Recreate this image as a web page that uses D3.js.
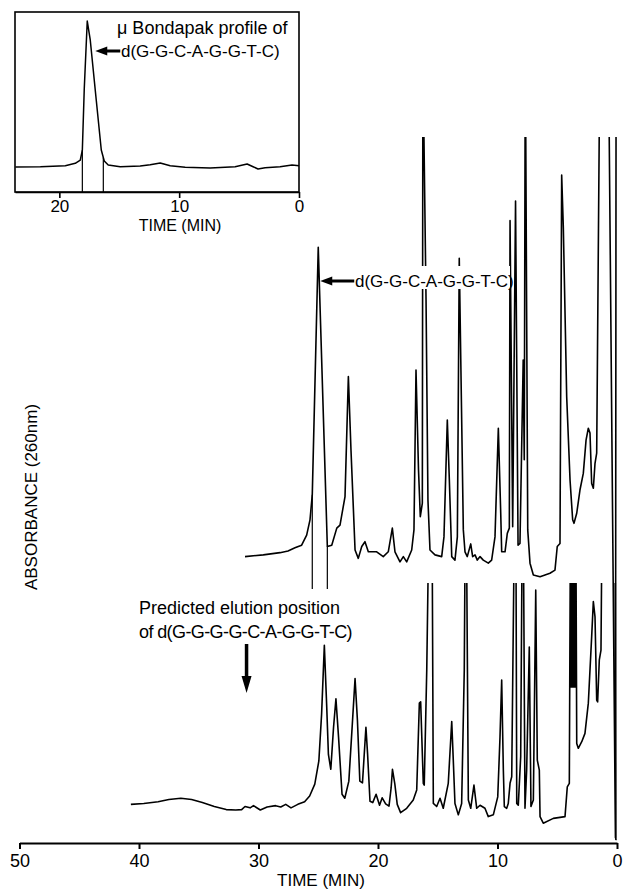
<!DOCTYPE html>
<html>
<head>
<meta charset="utf-8">
<script src="https://cdn.jsdelivr.net/npm/d3@7"></script>
<style>
  body { margin: 0; background: #fff; }
  svg { display: block; font-family: "Liberation Sans", Arial, Helvetica, sans-serif; }
</style>
</head>
<body>
<svg id="chart" width="626" height="889"></svg>
<script>
// retention times (min) and absorbance (arbitrary units, 0-100 = full pen range)
var upperTime = [31.13, 29.60, 28.20, 27.53, 26.95, 26.39, 25.97, 25.69, 25.50, 25.00, 24.24, 23.87, 23.45, 23.18, 22.76, 22.48, 22.26, 21.92, 21.65, 21.36, 21.09, 20.81, 20.11, 19.56, 19.14, 18.80, 18.58, 18.16, 17.88, 17.60, 17.18, 16.99, 16.82, 16.61, 16.46, 16.29, 16.25, 16.17, 15.98, 15.82, 15.65, 15.23, 14.67, 14.48, 14.20, 14.03, 13.83, 13.56, 13.36, 13.20, 12.86, 12.72, 12.53, 12.24, 12.08, 11.88, 11.69, 11.46, 11.19, 10.77, 10.49, 10.21, 9.93, 9.73, 9.65, 9.37, 9.18, 9.01, 8.95, 8.73, 8.49, 8.28, 8.12, 7.85, 7.76, 7.69, 7.64, 7.47, 7.28, 7.00, 6.44, 5.61, 5.19, 5.00, 4.77, 4.63, 4.49, 4.21, 3.93, 3.71, 3.60, 3.37, 3.10, 2.82, 2.59, 2.40, 2.26, 2.12, 1.98, 1.84, 1.70, 1.48, 0.66, 0.13, 0.08];
var upperAbs = [4.2, 4.6, 5.1, 5.5, 6.2, 6.8, 9.1, 12.6, 18.3, 74.8, 6.5, 6.8, 10.7, 11.4, 17.9, 45.3, 28.5, 5.7, 3.8, 6.5, 7.6, 5.3, 5.3, 4.2, 5.3, 10.7, 5.3, 3.0, 4.2, 3.0, 5.7, 10.3, 46.8, 24.0, 13.3, 16.4, 103, 103, 62.8, 17.1, 5.7, 4.6, 4.2, 8.7, 35.4, 21.7, 4.2, 3.4, 8.7, 72.3, 10.3, 5.3, 4.2, 7.1, 4.2, 4.6, 3.4, 4.2, 3.4, 2.7, 3.4, 8.7, 33.5, 14.1, 5.3, 5.3, 9.5, 10.7, 80.9, 11.0, 85.4, 6.8, 7.2, 49.1, 26.3, 103, 103, 10.3, 2.7, 0, -0.4, 0.4, 1.1, 6.5, 7.2, 91.3, 79.2, 40.7, 21.7, 12.6, 11.8, 14.1, 19.4, 23.2, 30.8, 33.5, 32.4, 20.9, 19.8, 25.5, 27.8, 103, 103, -60, 103];

var lowerTime = [40.68, 39.60, 38.40, 37.50, 36.50, 35.60, 34.70, 33.70, 32.70, 31.90, 31.41, 31.13, 30.70, 30.42, 29.85, 29.28, 28.57, 28.14, 27.72, 27.28, 26.71, 26.14, 25.72, 25.29, 24.95, 24.72, 24.49, 24.29, 24.15, 23.95, 23.72, 23.52, 23.30, 23.01, 22.78, 22.44, 22.15, 21.92, 21.72, 21.52, 21.30, 21.01, 20.87, 20.67, 20.44, 20.16, 19.87, 19.65, 19.36, 19.08, 18.90, 18.79, 18.59, 18.39, 18.11, 17.60, 17.05, 16.76, 16.54, 16.43, 16.21, 16.13, 15.92, 15.79, 15.46, 15.37, 15.09, 14.81, 14.54, 14.12, 13.83, 13.70, 13.56, 13.28, 13.00, 12.78, 12.72, 12.58, 12.44, 12.24, 11.97, 11.74, 11.46, 11.05, 10.77, 10.35, 9.98, 9.79, 9.65, 9.51, 9.43, 9.23, 9.10, 8.95, 8.81, 8.62, 8.45, 8.39, 8.26, 8.06, 7.95, 7.82, 7.70, 7.56, 7.34, 7.20, 7.00, 6.80, 6.67, 6.50, 6.44, 6.17, 5.33, 4.35, 4.16, 3.99, 3.91, 3.87, 3.83, 3.79, 3.75, 3.71, 3.67, 3.63, 3.59, 3.55, 3.51, 3.47, 3.43, 3.37, 3.24, 2.95, 2.68, 2.40, 2.12, 1.98, 1.84, 1.70, 1.62, 1.48, 1.34, 1.28, 0.15, 0.10, 0.02];
var lowerAbs = [7.0, 7.2, 7.6, 8.1, 8.4, 8.1, 7.4, 6.5, 5.8, 5.7, 5.8, 6.5, 6.2, 6.7, 5.7, 6.4, 6.7, 6.4, 7.0, 6.2, 7.0, 7.6, 8.9, 11.6, 16.9, 27.6, 43.3, 29.2, 18.4, 15.0, 24.6, 31.1, 22.3, 9.3, 8.4, 12.3, 25.3, 35.7, 26.1, 12.3, 11.9, 24.6, 18.4, 7.7, 7.4, 9.3, 6.8, 8.5, 7.1, 6.6, 10.8, 15.0, 11.6, 7.0, 5.1, 6.1, 8.0, 10.3, 30.1, 30.4, 11.8, 11.4, 37.7, 62.8, 62.8, 7.2, 6.5, 8.4, 6.1, 11.8, 25.9, 17.1, 7.2, 4.6, 7.2, 37.7, 62.8, 62.8, 8.0, 6.1, 11.4, 6.1, 6.8, 6.1, 4.2, 4.6, 8.7, 22.4, 35.4, 14.8, 6.5, 6.1, 7.2, 11.8, 13.3, 62.8, 62.8, 7.2, 6.8, 17.9, 62.8, 62.8, 6.1, 14.8, 42.9, 6.5, 8.0, 55.9, 17.1, 14.8, 4.2, 2.7, 3.8, 4.2, 11.0, 11.8, 62.8, 33.8, 62.8, 33.8, 62.8, 33.8, 62.8, 33.8, 62.8, 33.8, 62.8, 33.8, 62.8, 20.9, 19.8, 21.3, 23.2, 30.1, 45.3, 53.3, 49.8, 30.8, 30.4, 40.0, 42.2, 62.8, 62.8, -1, -1];

// muBondapak inset
var insetTime = [23.67, 21.58, 19.50, 18.67, 18.25, 18.08, 17.92, 17.67, 17.42, 16.92, 16.50, 16.25, 15.92, 14.92, 13.25, 12.42, 11.58, 10.75, 9.50, 7.42, 5.33, 4.33, 3.83, 3.42, 2.83, 1.58, 0.58, 0];
var insetAbs = [14.5, 14.7, 15.3, 16.7, 18.6, 24.4, 60.0, 99.4, 88.4, 53.5, 24.4, 18.0, 15.7, 14.7, 15.1, 15.9, 16.9, 15.3, 14.4, 14.0, 14.7, 16.3, 14.7, 13.4, 14.1, 14.7, 15.7, 15.3];

var mainTicks = [50, 40, 30, 20, 10, 0];
var insetTicks = [20, 10, 0];
var upperCuts = [25.50, 24.24]; // peak cut marks
var insetCuts = [18.08, 16.33];
var predictedTime = 31.0;

var svg = d3.select("#chart");
var x = d3.scaleLinear().domain([50, 0]).range([19.5, 617]);
var yUp = d3.scaleLinear().domain([0, 100]).range([575, 137]);
var yLow = d3.scaleLinear().domain([0, 100]).range([835, 397]);
var xIn = d3.scaleLinear().domain([23.7, 0]).range([15, 299]);
var yIn = d3.scaleLinear().domain([0, 100]).range([192, 20]);

function zip(ts, vs) {
  return ts.map(function (t, i) { return [t, vs[i]]; });
}
// linear interpolation of a trace at time t
function valueAt(ts, vs, t) {
  for (var i = 0; i < ts.length - 1; i++) {
    if (t <= ts[i] && t >= ts[i + 1]) {
      var f = (ts[i] - t) / (ts[i] - ts[i + 1]);
      return vs[i] + f * (vs[i + 1] - vs[i]);
    }
  }
  return vs[vs.length - 1];
}

var defs = svg.append("defs");
defs.append("clipPath").attr("id", "clipUp")
  .append("rect").attr("x", 0).attr("y", yUp(100)).attr("width", 626).attr("height", 889);
defs.append("clipPath").attr("id", "clipLow")
  .append("rect").attr("x", 0).attr("y", 583).attr("width", 626).attr("height", 889);

var lineUp = d3.line().x(function (d) { return x(d[0]); }).y(function (d) { return yUp(d[1]); });
var lineLow = d3.line().x(function (d) { return x(d[0]); }).y(function (d) { return yLow(d[1]); });
var lineIn = d3.line().x(function (d) { return xIn(d[0]); }).y(function (d) { return yIn(d[1]); });

// cut marks of the main peak (drawn under the traces)
svg.selectAll(".cutUp").data(upperCuts).enter().append("line")
  .attr("x1", function (t) { return x(t); })
  .attr("x2", function (t) { return x(t); })
  .attr("y1", function (t) { return yUp(valueAt(upperTime, upperAbs, t)); })
  .attr("y2", 589)
  .attr("stroke", "#000").attr("stroke-width", 1.2);

svg.append("path")
  .datum(zip(upperTime, upperAbs))
  .attr("clip-path", "url(#clipUp)")
  .attr("d", lineUp)
  .attr("fill", "none").attr("stroke", "#000")
  .attr("stroke-width", 1.6).attr("stroke-linejoin", "round");

svg.append("path")
  .datum(zip(lowerTime, lowerAbs))
  .attr("clip-path", "url(#clipLow)")
  .attr("d", lineLow)
  .attr("fill", "none").attr("stroke", "#000")
  .attr("stroke-width", 1.6).attr("stroke-linejoin", "round");

// main axis
var axis = svg.append("g")
  .attr("transform", "translate(0,843)")
  .call(d3.axisBottom(x).tickValues(mainTicks).tickSize(6).tickSizeOuter(0).tickPadding(5).tickFormat(d3.format("d")));
axis.select(".domain").attr("stroke-width", 2);
axis.selectAll(".tick line").attr("stroke-width", 2);
axis.selectAll("text").attr("font-size", 18).attr("fill", "#000")
  .attr("font-family", "Liberation Sans, Arial, sans-serif");

svg.append("text").attr("x", 321).attr("y", 886).attr("text-anchor", "middle")
  .attr("font-size", 17).text("TIME (MIN)");

svg.append("text")
  .attr("transform", "translate(37,497) rotate(-90)")
  .attr("text-anchor", "middle").attr("font-size", 17)
  .text("ABSORBANCE (260nm)");

// label of the main peak, white box breaks the peaks behind it
var lab = svg.append("g");
lab.append("rect").attr("x", 354).attr("y", 266).attr("width", 156).attr("height", 23).attr("fill", "#fff");
lab.append("text").attr("x", 355).attr("y", 287).attr("font-size", 17).text("d(G-G-C-A-G-G-T-C)");
function arrowLeft(g, tipX, y, len) {
  g.append("line").attr("x1", tipX + 8).attr("x2", tipX + len).attr("y1", y).attr("y2", y)
    .attr("stroke", "#000").attr("stroke-width", 3);
  g.append("path").attr("d", "M" + tipX + "," + y + "L" + (tipX + 12) + "," + (y - 4.5) + "L" + (tipX + 12) + "," + (y + 4.5) + "Z")
    .attr("fill", "#000");
}
arrowLeft(lab, x(25.0) + 2, 281, 34);

// predicted position
var pred = svg.append("g");
pred.append("text").attr("x", 139).attr("y", 614).attr("font-size", 18).text("Predicted elution position");
pred.append("text").attr("x", 139).attr("y", 638).attr("font-size", 18).attr("letter-spacing", -0.6)
  .text("of d(G-G-G-G-C-A-G-G-T-C)");
var px = x(predictedTime);
pred.append("line").attr("x1", px).attr("x2", px).attr("y1", 644).attr("y2", 680)
  .attr("stroke", "#000").attr("stroke-width", 3.5);
pred.append("path").attr("d", "M" + px + ",693L" + (px - 5) + ",676L" + (px + 5) + ",676Z").attr("fill", "#000");

// inset
var inset = svg.append("g");
inset.append("rect").attr("x", xIn(23.7)).attr("y", 12).attr("width", xIn(0) - xIn(23.7)).attr("height", 180)
  .attr("fill", "none").attr("stroke", "#000").attr("stroke-width", 1.6);
inset.selectAll(".cutIn").data(insetCuts).enter().append("line")
  .attr("x1", function (t) { return xIn(t); })
  .attr("x2", function (t) { return xIn(t); })
  .attr("y1", function (t) { return yIn(valueAt(insetTime, insetAbs, t)); })
  .attr("y2", yIn(0))
  .attr("stroke", "#000").attr("stroke-width", 1.2);
inset.append("path")
  .datum(zip(insetTime, insetAbs))
  .attr("d", lineIn)
  .attr("fill", "none").attr("stroke", "#000")
  .attr("stroke-width", 1.5).attr("stroke-linejoin", "round");
var axIn = inset.append("g")
  .attr("transform", "translate(0,192)")
  .call(d3.axisBottom(xIn).tickValues(insetTicks).tickSize(6).tickSizeOuter(0).tickPadding(2).tickFormat(d3.format("d")));
axIn.select(".domain").attr("stroke-width", 1.6);
axIn.selectAll(".tick line").attr("stroke-width", 1.6);
axIn.selectAll("text").attr("font-size", 17).attr("fill", "#000")
  .attr("font-family", "Liberation Sans, Arial, sans-serif");
inset.append("text").attr("x", 180).attr("y", 231).attr("text-anchor", "middle")
  .attr("font-size", 16).text("TIME (MIN)");
inset.append("text").attr("x", 117).attr("y", 34).attr("font-size", 18).text("\u03bc Bondapak profile of");
inset.append("text").attr("x", 121).attr("y", 57).attr("font-size", 17).text("d(G-G-C-A-G-G-T-C)");
arrowLeft(inset, xIn(17.67) + 8, 51, 25);
</script>
</body>
</html>
